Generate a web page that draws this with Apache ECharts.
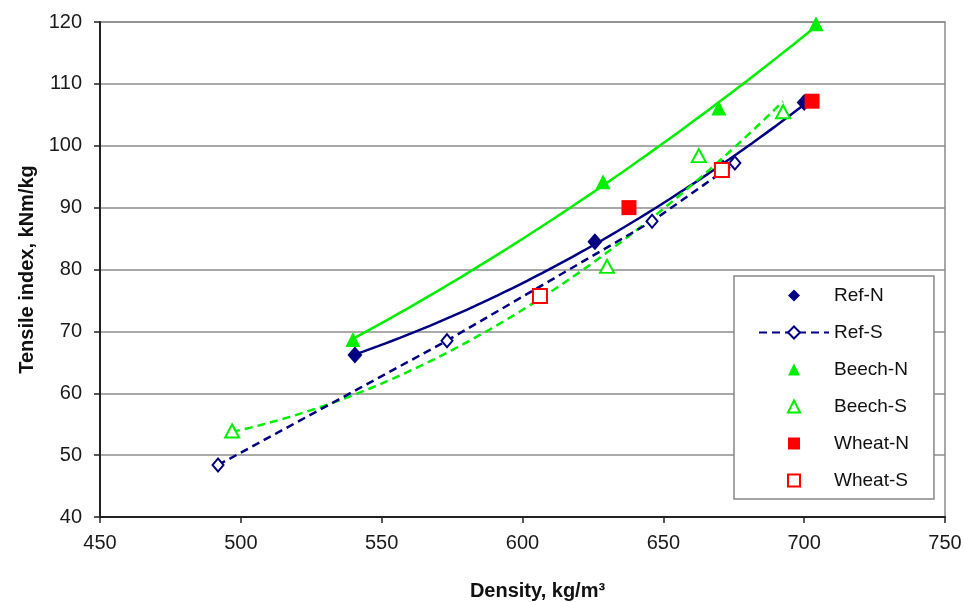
<!DOCTYPE html>
<html><head><meta charset="utf-8">
<script src="https://cdn.jsdelivr.net/npm/echarts@6/dist/echarts.min.js"></script>
<style>html,body{margin:0;padding:0;background:#fff}#c{width:965px;height:602px}</style>
</head><body><div id="c"></div>
<script>
// ---- data ----
const refN_x = [540.5, 625.7, 671.2, 700.0];
const refN_y = [66.2, 84.5, 96.4, 107.0];
const refS_x = [491.9, 573.2, 646.0, 675.4];
const refS_y = [48.4, 68.5, 87.8, 97.2];
const beechN_x = [539.8, 628.6, 669.7, 704.2];
const beechN_y = [68.7, 94.2, 106.1, 119.7];
const beechS_x = [496.9, 630.0, 662.6, 692.5];
const beechS_y = [53.9, 80.5, 98.4, 105.5];
const wheatN_x = [637.8, 702.8];
const wheatN_y = [90.0, 107.2];
const wheatS_x = [606.2, 670.8];
const wheatS_y = [75.7, 96.1];
const seriesNames = ['Ref-N', 'Ref-S', 'Beech-N', 'Beech-S', 'Wheat-N', 'Wheat-S'];
const xMin = 450, xMax = 750, xStep = 50;
const yMin = 40, yMax = 120, yStep = 10;

function pairs(xs, ys) { return xs.map((x, i) => [x, ys[i]]); }

// 2nd-order polynomial trendline (least squares), as in the original spreadsheet chart
function quadTrend(xs, ys) {
  const n = xs.length, m = xs.reduce((s, v) => s + v, 0) / n;
  const S = [0, 0, 0, 0, 0], T = [0, 0, 0];
  xs.forEach((x, i) => {
    const u = x - m; let p = 1;
    for (let k = 0; k < 5; k++) { S[k] += p; if (k < 3) T[k] += p * ys[i]; p *= u; }
  });
  const A = [[S[0], S[1], S[2]], [S[1], S[2], S[3]], [S[2], S[3], S[4]]];
  const det = M => M[0][0]*(M[1][1]*M[2][2]-M[1][2]*M[2][1]) - M[0][1]*(M[1][0]*M[2][2]-M[1][2]*M[2][0]) + M[0][2]*(M[1][0]*M[2][1]-M[1][1]*M[2][0]);
  const D = det(A);
  const col = (j) => A.map((r, i) => r.map((v, k) => k === j ? T[i] : v));
  const a = det(col(0)) / D, b = det(col(1)) / D, c = det(col(2)) / D;
  const lo = Math.min(...xs), hi = Math.max(...xs), N = 60, out = [];
  for (let i = 0; i <= N; i++) {
    const x = lo + (hi - lo) * i / N, u = x - m;
    out.push([x, a + b * u + c * u * u]);
  }
  return out;
}

const NAVY = '#000080', GREEN = '#00ee00', RED = '#ff0000';
const FONT = '"Liberation Sans", Arial, sans-serif';

function markerSeries(name, data, symbol, size, color, lineStyle) {
  return {
    name, type: 'line', data, symbol, symbolSize: size, showSymbol: true,
    itemStyle: { color, borderColor: color, borderWidth: symbol.indexOf('empty') === 0 ? 1.6 : 0 },
    lineStyle: lineStyle || { width: 0, color },
    z: 5, silent: true
  };
}
function trendSeries(name, data, color, dashed) {
  return {
    name, type: 'line', data, symbol: 'none', showSymbol: false, smooth: false,
    lineStyle: { color, width: 2.5, type: dashed ? [8, 5] : 'solid' },
    z: 3, silent: true
  };
}

const option = {
  animation: false,
  backgroundColor: '#ffffff',
  grid: { left: 100, right: 20, top: 22, bottom: 85, containLabel: false, outerBoundsMode: 'none',
          show: true, borderColor: '#8c8c8c', borderWidth: 1.5, backgroundColor: 'transparent' },
  xAxis: {
    type: 'value', min: xMin, max: xMax, interval: xStep,
    name: 'Density, kg/m³', nameLocation: 'middle', nameGap: 64,
    nameTextStyle: { fontFamily: FONT, fontSize: 20, fontWeight: 'bold', color: '#111', padding: [0, 0, 0, 30] },
    axisLine: { show: true, lineStyle: { color: '#222', width: 2 } },
    axisTick: { show: true, inside: false, length: 6, lineStyle: { color: '#222', width: 1.5 } },
    axisLabel: { fontFamily: FONT, fontSize: 20, color: '#1a1a1a', margin: 16 },
    splitLine: { show: false }
  },
  yAxis: {
    type: 'value', min: yMin, max: yMax, interval: yStep,
    name: 'Tensile index, kNm/kg', nameLocation: 'middle', nameGap: 62, nameRotate: 90,
    nameTextStyle: { fontFamily: FONT, fontSize: 20, fontWeight: 'bold', color: '#111' },
    axisLine: { show: true, lineStyle: { color: '#222', width: 2 } },
    axisTick: { show: true, inside: false, length: 6, lineStyle: { color: '#222', width: 1.5 } },
    axisLabel: { fontFamily: FONT, fontSize: 20, color: '#1a1a1a', margin: 18 },
    splitLine: { show: true, lineStyle: { color: '#8c8c8c', width: 1.5 } }
  },
  legend: {
    data: seriesNames, orient: 'vertical', left: 734, top: 276,
    padding: [10, 25, 9, 24], itemWidth: 70, itemHeight: 15, itemGap: 18,
    backgroundColor: '#ffffff', borderColor: '#888888', borderWidth: 1.5, borderRadius: 0,
    textStyle: { fontFamily: FONT, fontSize: 19, color: '#111' },
    selectedMode: false
  },
  series: [
    trendSeries('Ref-N trend', quadTrend(refN_x, refN_y), NAVY, false),
    trendSeries('Beech-N trend', quadTrend(beechN_x, beechN_y), GREEN, false),
    trendSeries('Beech-S trend', quadTrend(beechS_x, beechS_y), GREEN, true),
    markerSeries('Ref-N', pairs(refN_x, refN_y), 'diamond', [15, 17], NAVY),
    markerSeries('Ref-S', pairs(refS_x, refS_y), 'emptyDiamond', [11, 13], NAVY, { width: 2.5, color: NAVY, type: [8, 5] }),
    markerSeries('Beech-N', pairs(beechN_x, beechN_y), 'triangle', 15, GREEN),
    markerSeries('Beech-S', pairs(beechS_x, beechS_y), 'emptyTriangle', [14, 13], GREEN),
    markerSeries('Wheat-N', pairs(wheatN_x, wheatN_y), 'rect', 15, RED),
    markerSeries('Wheat-S', pairs(wheatS_x, wheatS_y), 'emptyRect', 14, RED)
  ]
};
echarts.init(document.getElementById('c'), null, { renderer: 'canvas' }).setOption(option);
</script>
</body></html>
